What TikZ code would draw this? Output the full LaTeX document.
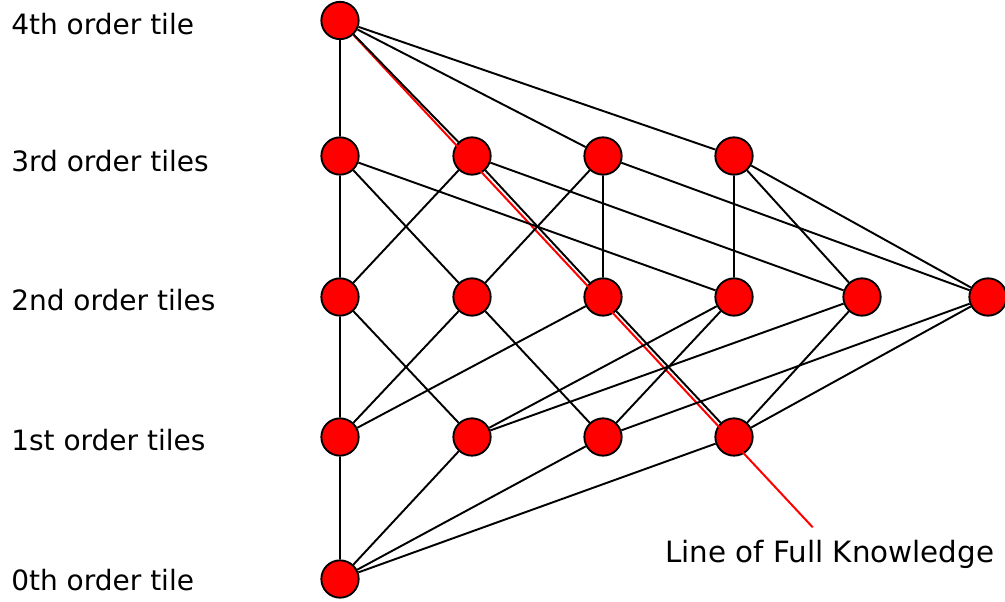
\documentclass[tikz,border=0pt]{standalone}
\usepackage{fontspec}
\setmainfont{DejaVu Sans}
\usepackage{tikz}

\begin{document}
\begin{tikzpicture}[x=0.75pt, y=-0.75pt,
  tile/.style={draw, circle, fill=red, line width=1.4pt, minimum size=28pt, inner sep=0pt},
  edge/.style={line width=1.45pt},
  knowledge/.style={red, line width=1.5pt},
  label/.style={anchor=base west, inner sep=0pt, font=\fontsize{21}{26}\selectfont}
]
\useasboundingbox (0,0) rectangle (1005,602);

% Row labels
\node[label] (l4) at (11, 35) {4th order tile};
\node[label] (l3) at (11, 172) {3rd order tiles};
\node[label] (l2) at (11, 310) {2nd order tiles};
\node[label] (l1) at (11, 450) {1st order tiles};
\node[label] (l0) at (11, 590) {0th order tile};

% Tiles
\node[tile] (q) at (340, 20.5) {};

\node[tile] (t1) at (340, 156) {};
\node[tile] (t2) at (472, 156) {};
\node[tile] (t3) at (603, 156) {};
\node[tile] (t4) at (734, 156) {};

\node[tile] (s1) at (340, 297) {};
\node[tile] (s2) at (472, 297) {};
\node[tile] (s3) at (603, 297) {};
\node[tile] (s4) at (734, 297) {};
\node[tile] (s5) at (862, 297) {};
\node[tile] (s6) at (988, 297) {};

\node[tile] (p1) at (340, 437) {};
\node[tile] (p2) at (472, 437) {};
\node[tile] (p3) at (603, 437) {};
\node[tile] (p4) at (734, 437) {};

\node[tile] (z) at (340, 579) {};

% Line of full knowledge
\coordinate (lfk) at (812.7, 527.3);
\draw[knowledge] (q) -- (lfk);
\node[label, font=\fontsize{22}{26}\selectfont] (lfkl) at (665, 562) {Line of Full Knowledge};

% Edges between orders
\draw[edge] (q) -- (t1) (q) -- (t2) (q) -- (t3) (q) -- (t4);

\draw[edge] (t1) -- (s1) (t1) -- (s2) (t1) -- (s4);
\draw[edge] (t2) -- (s1) (t2) -- (s3) (t2) -- (s5);
\draw[edge] (t3) -- (s2) (t3) -- (s3) (t3) -- (s6);
\draw[edge] (t4) -- (s4) (t4) -- (s5) (t4) -- (s6);

\draw[edge] (s1) -- (p1) (s1) -- (p2);
\draw[edge] (s2) -- (p1) (s2) -- (p3);
\draw[edge] (s3) -- (p1) (s3) -- (p4);
\draw[edge] (s4) -- (p2) (s4) -- (p3);
\draw[edge] (s5) -- (p2) (s5) -- (p4);
\draw[edge] (s6) -- (p3) (s6) -- (p4);

\draw[edge] (p1) -- (z) (p2) -- (z) (p3) -- (z) (p4) -- (z);

\end{tikzpicture}
\end{document}
